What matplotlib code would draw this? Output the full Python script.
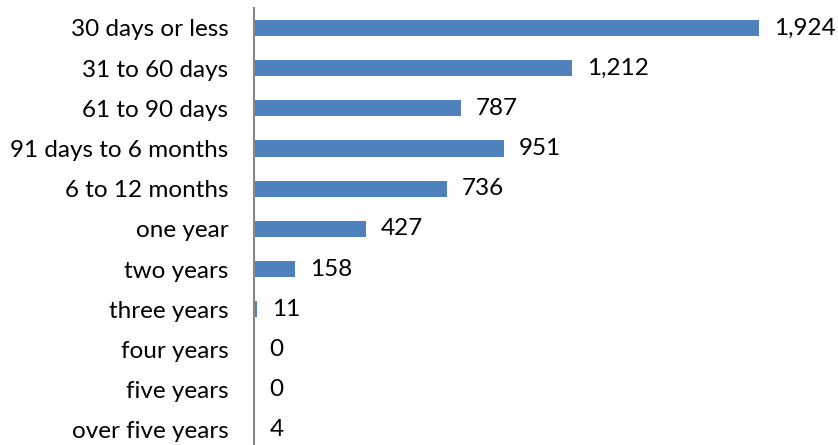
import matplotlib.pyplot as plt

# categories, top to bottom
categories = ["30 days or less", "31 to 60 days", "61 to 90 days", "91 days to 6 months",
              "6 to 12 months", "one year", "two years", "three years",
              "four years", "five years", "over five years"]
counts = [1924, 1212, 787, 951, 736, 427, 158, 11, 0, 0, 4]
labels = ["1,924", "1,212", "787", "951", "736", "427", "158", "11", "0", "0", "4"]

plt.rcParams['font.family'] = ['Lato', 'DejaVu Sans']

fig = plt.figure(figsize=(8.38, 4.45), dpi=100)
ax = fig.add_axes([254 / 838, -0.011, 525 / 838, 442 / 445])

pos = list(range(len(categories)))
ax.barh(pos, counts, height=0.4, color="#4F81BD", edgecolor="none")
ax.set_xlim(0, 2000)
ax.set_ylim(len(categories) - 0.5, -0.5)

for p, c, l in zip(pos, counts, labels):
    ax.annotate(l, (c, p), xytext=(15, 0), textcoords="offset pixels",
                va="center", ha="left", fontsize=17.5, color="#000000")

ax.set_yticks(pos)
ax.set_yticklabels(categories, fontsize=17.5)
ax.tick_params(axis="y", length=0, pad=18.5)
ax.set_xticks([])
for s in ["top", "right", "bottom"]:
    ax.spines[s].set_visible(False)
ax.spines["left"].set_color("#868686")
ax.spines["left"].set_linewidth(1.5)

fig.savefig("out.png", dpi=100)
